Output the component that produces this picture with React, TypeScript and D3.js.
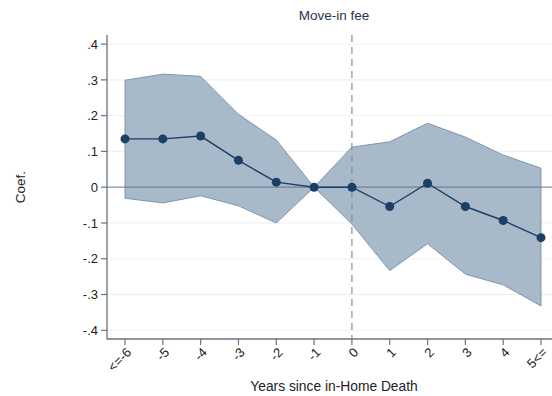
import React from "react";
import * as d3 from "d3";

const years = [-6, -5, -4, -3, -2, -1, 0, 1, 2, 3, 4, 5];
const yearLabels = ["<=-6", "-5", "-4", "-3", "-2", "-1", "0", "1", "2", "3", "4", "5<="];
const coef = [0.135, 0.135, 0.143, 0.075, 0.014, 0, 0, -0.054, 0.011, -0.054, -0.093, -0.141];
const ciUpper = [0.299, 0.316, 0.31, 0.204, 0.132, 0, 0.112, 0.127, 0.179, 0.14, 0.09, 0.053];
const ciLower = [-0.031, -0.044, -0.024, -0.052, -0.1, 0, -0.103, -0.233, -0.158, -0.243, -0.273, -0.332];
const yTicks = [0.4, 0.3, 0.2, 0.1, 0, -0.1, -0.2, -0.3, -0.4];
const yTickLabels = [".4", ".3", ".2", ".1", "0", "-.1", "-.2", "-.3", "-.4"];

const W = 552;
const H = 396;
const axisLeft = 107;
const axisBottom = 339;
const axisTop = 35;
const font = "'Liberation Sans', Arial, Helvetica, sans-serif";

export default function App() {
  const x = d3.scaleLinear().domain([-6, 5]).range([125, 541]);
  const y = d3.scaleLinear().domain([-0.4, 0.4]).range([330.3, 44.1]);

  const rows = years.map((yr, i) => ({ yr, c: coef[i], lo: ciLower[i], hi: ciUpper[i] }));
  const area = d3
    .area<(typeof rows)[number]>()
    .x((d) => x(d.yr))
    .y0((d) => y(d.lo))
    .y1((d) => y(d.hi));
  const line = d3
    .line<(typeof rows)[number]>()
    .x((d) => x(d.yr))
    .y((d) => y(d.c));

  return (
    <svg
      width={W}
      height={H}
      style={{ position: "absolute", left: 0, top: 0, background: "#fff" }}
      fontFamily={font}
    >
      {/* horizontal grid */}
      {yTicks
        .filter((t) => t !== 0)
        .map((t) => (
          <line key={t} x1={axisLeft} x2={W} y1={y(t)} y2={y(t)} stroke="#eaf0f2" strokeWidth={1} />
        ))}

      {/* confidence band */}
      <path d={area(rows) ?? ""} fill="#a8b9c9" stroke="#7f97ad" strokeWidth={1} />

      {/* zero reference line */}
      <line x1={axisLeft} x2={W} y1={y(0)} y2={y(0)} stroke="#5f7184" strokeOpacity={0.75} strokeWidth={1.3} />

      {/* event time reference */}
      <line
        x1={x(0)}
        x2={x(0)}
        y1={axisTop}
        y2={axisBottom}
        stroke="#8a8f94"
        strokeWidth={1.2}
        strokeDasharray="7,5"
      />

      {/* point estimates */}
      <path d={line(rows) ?? ""} fill="none" stroke="#1b3f66" strokeWidth={1.4} />
      {rows.map((d) => (
        <circle key={d.yr} cx={x(d.yr)} cy={y(d.c)} r={4.5} fill="#1b3f66" />
      ))}

      {/* y axis */}
      <line x1={axisLeft} x2={axisLeft} y1={axisTop} y2={axisBottom + 0.5} stroke="#6d7378" strokeWidth={1.3} />
      {yTicks.map((t, i) => (
        <g key={t}>
          <line x1={axisLeft - 6} x2={axisLeft} y1={y(t)} y2={y(t)} stroke="#6d7378" strokeWidth={1.2} />
          <text
            x={axisLeft - 9}
            y={y(t)}
            dy="0.36em"
            textAnchor="end"
            fontSize={13}
            fill="#222"
          >
            {yTickLabels[i]}
          </text>
        </g>
      ))}

      {/* x axis */}
      <line x1={axisLeft} x2={W} y1={axisBottom} y2={axisBottom} stroke="#6d7378" strokeWidth={1.3} />
      {years.map((yr, i) => (
        <g key={yr}>
          <line x1={x(yr)} x2={x(yr)} y1={axisBottom} y2={axisBottom + 6} stroke="#6d7378" strokeWidth={1.2} />
          <text
            transform={`translate(${x(yr) + 4},${axisBottom + 11}) rotate(-45)`}
            textAnchor="end"
            dy="0.35em"
            fontSize={13}
            fill="#222"
          >
            {yearLabels[i]}
          </text>
        </g>
      ))}

      {/* titles */}
      <text x={334} y={20} textAnchor="middle" fontSize={13.5} fill="#2a3550">
        Move-in fee
      </text>
      <text
        transform={`translate(25,${y(0)}) rotate(-90)`}
        textAnchor="middle"
        fontSize={13.5}
        fill="#222"
      >
        Coef.
      </text>
      <text x={334} y={391} textAnchor="middle" fontSize={13.8} fill="#222">
        Years since in-Home Death
      </text>
    </svg>
  );
}
